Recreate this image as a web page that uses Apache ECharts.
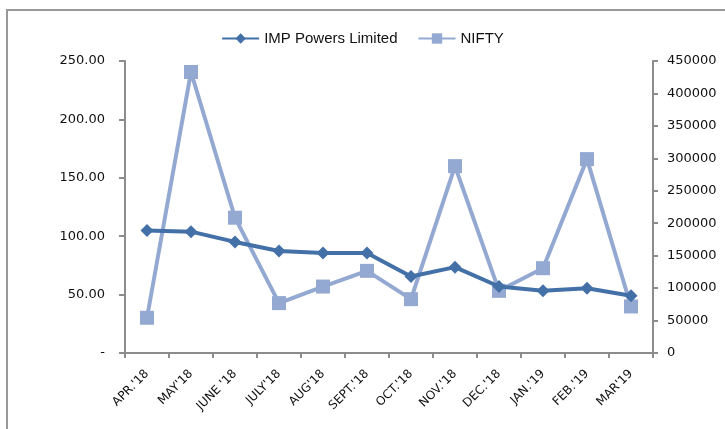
<!DOCTYPE html>
<html><head><meta charset="utf-8">
<script src="https://cdn.jsdelivr.net/npm/echarts@6/dist/echarts.min.js"></script>
<style>html,body{margin:0;padding:0;background:#fff}#c{width:725px;height:429px}</style>
</head><body><div id="c"></div>
<script>
const categories = ["APR.'18","MAY'18","JUNE '18","JULY'18","AUG'18","SEPT.'18","OCT.'18","NOV.'18","DEC.'18","JAN.'19","FEB.'19","MAR'19"];
const impPowers = [104.8, 103.9, 95.1, 87.4, 85.7, 85.6, 65.5, 73.5, 56.9, 53.2, 55.5, 49.0];
const nifty = [54300, 433100, 208500, 76900, 102400, 126600, 83000, 288000, 95800, 130700, 298800, 71700];
const leftTicks = [0, 50, 100, 150, 200, 250];
const rightTicks = [0, 50000, 100000, 150000, 200000, 250000, 300000, 350000, 400000, 450000];

const chart = echarts.init(document.getElementById('c'), null, {renderer: 'canvas'});
const axisGrey = '#8c8c8c';
chart.setOption({
  animation: false,
  graphic: [{type: 'rect', shape: {x: 7, y: 10, width: 800, height: 500}, style: {fill: 'none', stroke: '#999', lineWidth: 2}, silent: true}],
  legend: {
    top: 26, left: 'center', itemGap: 20, itemWidth: 37, itemHeight: 13,
    textStyle: {fontFamily: 'Liberation Sans', fontSize: 15, color: '#111'},
    data: ['IMP Powers Limited', 'NIFTY']
  },
  grid: {left: 125, right: 72, top: 61, bottom: 76},
  xAxis: {
    type: 'category', data: categories, boundaryGap: true,
    axisLine: {lineStyle: {color: axisGrey, width: 2}},
    axisTick: {show: true, alignWithLabel: false, length: 5, lineStyle: {color: axisGrey, width: 2}},
    axisLabel: {rotate: 45, interval: 0, fontFamily: 'DejaVu Sans', fontSize: 12, color: '#111', margin: 19}
  },
  yAxis: [{
    type: 'value', min: 0, max: 250, interval: 50, position: 'left',
    axisLine: {show: true, lineStyle: {color: axisGrey, width: 2}},
    axisTick: {show: true, length: 6, lineStyle: {color: axisGrey, width: 2}},
    splitLine: {show: false},
    axisLabel: {fontFamily: 'DejaVu Sans', fontSize: 13, color: '#111', margin: 20,
      formatter: v => leftTicks.includes(v) ? (v === 0 ? '-' : v.toFixed(2)) : ''}
  }, {
    type: 'value', min: 0, max: 450000, interval: 50000, position: 'right',
    axisLine: {show: true, lineStyle: {color: axisGrey, width: 2}},
    axisTick: {show: true, length: 5, lineStyle: {color: axisGrey, width: 2}},
    splitLine: {show: false},
    axisLabel: {fontFamily: 'DejaVu Sans', fontSize: 13, color: '#111', margin: 14,
      formatter: v => rightTicks.includes(v) ? String(v) : ''}
  }],
  series: [{
    name: 'IMP Powers Limited', type: 'line', yAxisIndex: 0, data: impPowers,
    symbol: 'diamond', symbolSize: 13,
    lineStyle: {color: '#4470a8', width: 4}, itemStyle: {color: '#4470a8'}, z: 3
  }, {
    name: 'NIFTY', type: 'line', yAxisIndex: 1, data: nifty,
    symbol: 'rect', symbolSize: 14,
    lineStyle: {color: '#94a9d2', width: 4}, itemStyle: {color: '#94a9d2'}, z: 2
  }]
});
</script></body></html>
